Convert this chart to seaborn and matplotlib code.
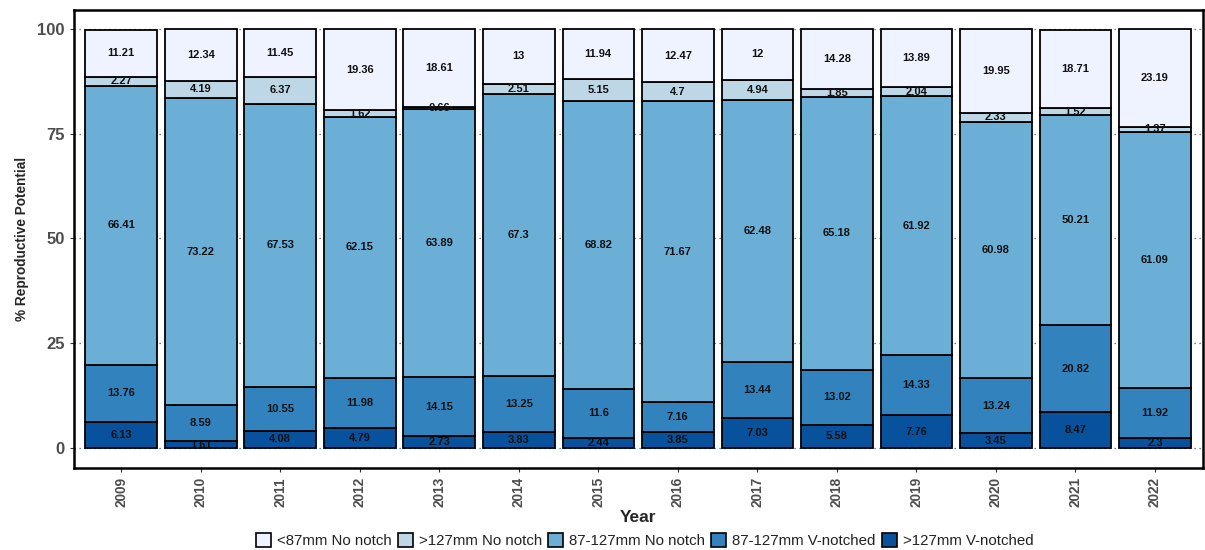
import matplotlib
matplotlib.use('Agg')
import matplotlib.pyplot as plt
from matplotlib.patches import Patch
import seaborn as sns
import pandas as pd

# data
years = list(range(2009, 2023))
categories = ['<87mm No notch', '>127mm No notch', '87-127mm No notch',
              '87-127mm V-notched', '>127mm V-notched']
small_no_notch = [11.21, 12.34, 11.45, 19.36, 18.61, 13, 11.94, 12.47, 12, 14.28, 13.89, 19.95, 18.71, 23.19]
large_no_notch = [2.27, 4.19, 6.37, 1.62, 0.66, 2.51, 5.15, 4.7, 4.94, 1.85, 2.04, 2.33, 1.52, 1.37]
mid_no_notch = [66.41, 73.22, 67.53, 62.15, 63.89, 67.3, 68.82, 71.67, 62.48, 65.18, 61.92, 60.98, 50.21, 61.09]
mid_vnotched = [13.76, 8.59, 10.55, 11.98, 14.15, 13.25, 11.6, 7.16, 13.44, 13.02, 14.33, 13.24, 20.82, 11.92]
large_vnotched = [6.13, 1.61, 4.08, 4.79, 2.73, 3.83, 2.44, 3.85, 7.03, 5.58, 7.76, 3.45, 8.47, 2.3]
colors = ['#eff3ff', '#bdd7e7', '#6baed6', '#3182bd', '#08519c']

series = dict(zip(categories, [small_no_notch, large_no_notch, mid_no_notch,
                               mid_vnotched, large_vnotched]))
rows = []
for cat, vals in series.items():
    for y, v in zip(years, vals):
        rows.append({'Year': y, 'Category': cat, 'value': v})
df = pd.DataFrame(rows)

sns.set_style('white')
plt.rcParams['font.family'] = ['Liberation Sans', 'DejaVu Sans']
fig, ax = plt.subplots(figsize=(12.05, 5.5), dpi=100)
fig.subplots_adjust(left=0.061, right=0.998, top=0.982, bottom=0.149)

# histplot stacks the last hue level at the bottom
sns.histplot(data=df, x='Year', weights='value', hue='Category', hue_order=categories,
             multiple='stack', discrete=True, shrink=0.9, palette=colors,
             edgecolor='black', linewidth=1.3, alpha=1, legend=False, ax=ax, zorder=3)

# segment labels
for i, y in enumerate(years):
    base = 0
    for cat in reversed(categories):
        v = series[cat][i]
        ax.text(y, base + v / 2, f'{v:g}', ha='center', va='center',
                fontsize=8, fontweight='bold', color='#111111', zorder=5)
        base += v

ax.set_ylim(-4.8, 104.5)
ax.set_xlim(years[0] - 0.6, years[-1] + 0.6)
ax.set_yticks([0, 25, 50, 75, 100])
ax.set_xticks(years)
ax.set_xticklabels([str(y) for y in years], rotation=90)
ax.yaxis.grid(True, linestyle=(0, (1, 3)), color='#555555', linewidth=0.9, zorder=0)
ax.xaxis.grid(False)
ax.tick_params(axis='both', length=3, width=0.8, color='#333333', labelcolor='#4d4d4d',
               bottom=True, left=True)
ax.tick_params(axis='y', labelsize=12)
ax.tick_params(axis='x', labelsize=9.8)
for lab in ax.get_xticklabels() + ax.get_yticklabels():
    lab.set_fontweight('bold')
for sp in ax.spines.values():
    sp.set_color('black')
    sp.set_linewidth(1.8)

ax.set_xlabel('Year', fontsize=12.5, fontweight='bold', labelpad=2)
ax.set_ylabel('% Reproductive Potential', fontsize=9.8, fontweight='bold', labelpad=6)

handles = [Patch(facecolor=c, edgecolor='black', linewidth=1.2) for c in colors]
fig.legend(handles, categories, loc='center', bbox_to_anchor=(0.535, 0.017), ncol=5,
           frameon=False, fontsize=10.8, handlelength=1.0, handleheight=1.0,
           columnspacing=0.4, handletextpad=0.4, labelcolor='#222222')

fig.savefig('out.png', dpi=100)
